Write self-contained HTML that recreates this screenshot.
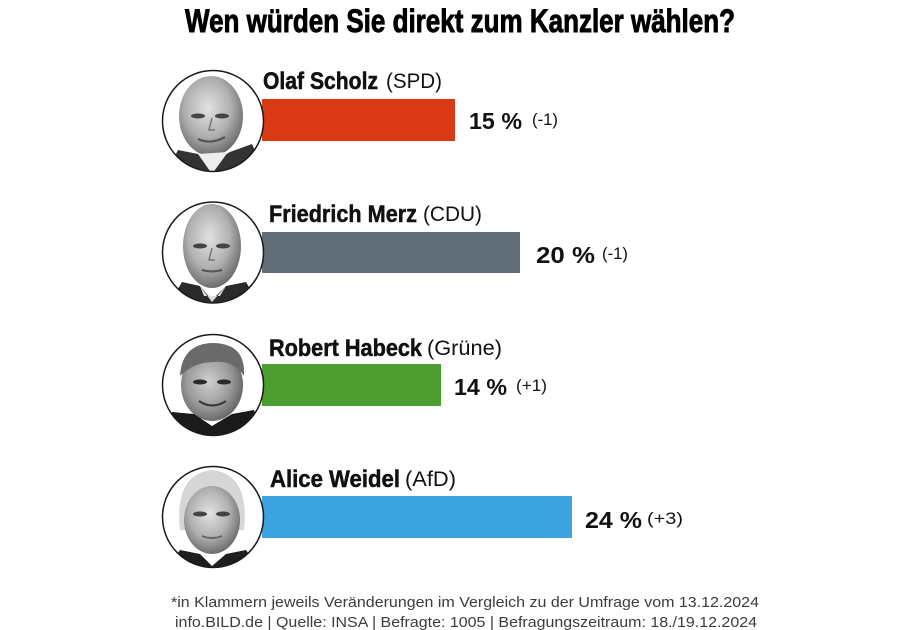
<!DOCTYPE html>
<html>
<head>
<meta charset="utf-8">
<style>
  html,body{margin:0;padding:0;background:#fff;}
  svg{display:block;}
  text{font-family:"Liberation Sans", "DejaVu Sans", sans-serif;}
</style>
</head>
<body>
<svg width="923" height="630" viewBox="0 0 923 630" xmlns="http://www.w3.org/2000/svg">
  <defs>
    <clipPath id="c1"><circle cx="213" cy="121" r="50"/></clipPath>
    <clipPath id="c2"><circle cx="213" cy="252.5" r="50"/></clipPath>
    <clipPath id="c3"><circle cx="213" cy="385" r="50"/></clipPath>
    <clipPath id="c4"><circle cx="213" cy="517" r="50"/></clipPath>
    <radialGradient id="face" cx="0.45" cy="0.4" r="0.6">
      <stop offset="0" stop-color="#e2e2e2"/>
      <stop offset="0.6" stop-color="#b0b0b0"/>
      <stop offset="1" stop-color="#6e6e6e"/>
    </radialGradient>
    <radialGradient id="faceD" cx="0.45" cy="0.45" r="0.6">
      <stop offset="0" stop-color="#cfcfcf"/>
      <stop offset="0.6" stop-color="#9a9a9a"/>
      <stop offset="1" stop-color="#5e5e5e"/>
    </radialGradient>
  </defs>

  <!-- Title -->
  <text x="185" y="32" font-size="32" font-weight="bold" fill="#000" stroke="#000" stroke-width="0.9" textLength="550" lengthAdjust="spacingAndGlyphs">Wen würden Sie direkt zum Kanzler wählen?</text>

  <!-- Bars -->
  <rect x="262" y="99" width="193" height="42" fill="#d93915"/>
  <rect x="262" y="232" width="258" height="41" fill="#626e78"/>
  <rect x="262" y="364" width="179" height="42" fill="#4b9d2f"/>
  <rect x="262" y="496" width="310" height="42" fill="#3ba4e1"/>

  <!-- Portrait 1: Scholz -->
  <g clip-path="url(#c1)">
    <rect x="160" y="68" width="106" height="106" fill="#fff"/>
    <ellipse cx="211" cy="116" rx="32" ry="40" fill="url(#face)"/>
    <ellipse cx="198" cy="116" rx="7" ry="2.5" fill="#444"/>
    <ellipse cx="222" cy="116" rx="7" ry="2.5" fill="#444"/>
    <path d="M212 118 L209 130 L215 130" stroke="#777" stroke-width="1.5" fill="none"/>
    <path d="M198 139 Q211 145 225 137" stroke="#555" stroke-width="2.2" fill="none"/>
    <path d="M165 175 L178 150 L198 154 L213 162 L230 152 L252 144 L266 175 Z" fill="#333"/>
    <path d="M198 154 L212 174 L228 152 Z" fill="#eee"/>
  </g>
  <circle cx="213" cy="121" r="50.5" fill="none" stroke="#1a1a1a" stroke-width="1.5"/>

  <!-- Portrait 2: Merz -->
  <g clip-path="url(#c2)">
    <rect x="160" y="200" width="106" height="106" fill="#fff"/>
    <ellipse cx="212" cy="246" rx="29" ry="42" fill="url(#face)"/>
    <ellipse cx="200" cy="246" rx="7" ry="2.5" fill="#444"/>
    <ellipse cx="223" cy="246" rx="7" ry="2.5" fill="#444"/>
    <path d="M212 248 L209 260 L215 260" stroke="#777" stroke-width="1.5" fill="none"/>
    <path d="M202 270 Q212 273 222 270" stroke="#555" stroke-width="2" fill="none"/>
    <path d="M168 306 L182 282 L200 286 L212 300 L226 286 L246 282 L260 306 Z" fill="#2a2a2a"/>
    <path d="M200 286 L212 302 L226 286 L220 296 L204 296 Z" fill="#ddd"/>
  </g>
  <circle cx="213" cy="252.5" r="50.5" fill="none" stroke="#1a1a1a" stroke-width="1.5"/>

  <!-- Portrait 3: Habeck -->
  <g clip-path="url(#c3)">
    <rect x="160" y="333" width="106" height="106" fill="#fff"/>
    <ellipse cx="212" cy="385" rx="31" ry="36" fill="url(#faceD)"/>
    <path d="M180 376 Q182 343 214 343 Q246 344 244 376 Q234 360 214 362 Q194 362 180 376 Z" fill="#6a6a6a"/>
    <ellipse cx="200" cy="382" rx="7" ry="2.5" fill="#2a2a2a"/>
    <ellipse cx="224" cy="382" rx="7" ry="2.5" fill="#2a2a2a"/>
    <path d="M199 401 Q212 410 226 401" stroke="#3a3a3a" stroke-width="2.2" fill="none"/>
    <path d="M160 440 L172 412 L194 414 L212 426 L232 414 L254 410 L266 440 Z" fill="#1a1a1a"/>
  </g>
  <circle cx="213" cy="385" r="50.5" fill="none" stroke="#1a1a1a" stroke-width="1.5"/>

  <!-- Portrait 4: Weidel -->
  <g clip-path="url(#c4)">
    <rect x="160" y="465" width="106" height="106" fill="#fff"/>
    <path d="M180 530 Q174 474 212 470 Q250 474 244 530 Z" fill="#d6d6d6"/>
    <ellipse cx="212" cy="520" rx="28" ry="34" fill="url(#face)"/>
    <ellipse cx="200" cy="514" rx="7" ry="2.5" fill="#444"/>
    <ellipse cx="223" cy="514" rx="7" ry="2.5" fill="#444"/>
    <path d="M202 536 Q212 540 222 536" stroke="#666" stroke-width="2" fill="none"/>
    <path d="M164 572 L180 550 L200 554 L212 566 L226 554 L246 550 L262 572 Z" fill="#1e1e1e"/>
  </g>
  <circle cx="213" cy="517" r="50.5" fill="none" stroke="#1a1a1a" stroke-width="1.5"/>

  <!-- Names -->
  <g fill="#111">
    <text x="263" y="89" font-size="24" font-weight="bold" stroke="#111" stroke-width="0.5" textLength="115" lengthAdjust="spacingAndGlyphs">Olaf Scholz</text>
    <text x="386" y="88" font-size="21" textLength="56" lengthAdjust="spacingAndGlyphs">(SPD)</text>

    <text x="269" y="222" font-size="24" font-weight="bold" stroke="#111" stroke-width="0.5" textLength="148" lengthAdjust="spacingAndGlyphs">Friedrich Merz</text>
    <text x="423" y="221" font-size="21" textLength="59" lengthAdjust="spacingAndGlyphs">(CDU)</text>

    <text x="269" y="356" font-size="24" font-weight="bold" stroke="#111" stroke-width="0.5" textLength="153" lengthAdjust="spacingAndGlyphs">Robert Habeck</text>
    <text x="427" y="355" font-size="21" textLength="75" lengthAdjust="spacingAndGlyphs">(Grüne)</text>

    <text x="270" y="487" font-size="24" font-weight="bold" stroke="#111" stroke-width="0.5" textLength="130" lengthAdjust="spacingAndGlyphs">Alice Weidel</text>
    <text x="405" y="486" font-size="21" textLength="51" lengthAdjust="spacingAndGlyphs">(AfD)</text>
  </g>

  <!-- Values -->
  <g fill="#111">
    <text x="469" y="129" font-size="23" font-weight="bold" textLength="53" lengthAdjust="spacingAndGlyphs">15 %</text>
    <text x="532" y="125" font-size="17" textLength="26" lengthAdjust="spacingAndGlyphs">(-1)</text>

    <text x="536" y="263" font-size="23" font-weight="bold" textLength="59" lengthAdjust="spacingAndGlyphs">20 %</text>
    <text x="602" y="259" font-size="17" textLength="26" lengthAdjust="spacingAndGlyphs">(-1)</text>

    <text x="454" y="395" font-size="23" font-weight="bold" textLength="53" lengthAdjust="spacingAndGlyphs">14 %</text>
    <text x="516" y="391" font-size="17" textLength="31" lengthAdjust="spacingAndGlyphs">(+1)</text>

    <text x="585" y="528" font-size="23" font-weight="bold" textLength="57" lengthAdjust="spacingAndGlyphs">24 %</text>
    <text x="647" y="524" font-size="17" textLength="36" lengthAdjust="spacingAndGlyphs">(+3)</text>
  </g>

  <!-- Footnote -->
  <g fill="#3c3c3c">
    <text x="171" y="607" font-size="15" textLength="588" lengthAdjust="spacingAndGlyphs">*in Klammern jeweils Veränderungen im Vergleich zu der Umfrage vom 13.12.2024</text>
    <text x="175" y="627" font-size="15" textLength="582" lengthAdjust="spacingAndGlyphs">info.BILD.de | Quelle: INSA | Befragte: 1005 | Befragungszeitraum: 18./19.12.2024</text>
  </g>
</svg>
</body>
</html>
